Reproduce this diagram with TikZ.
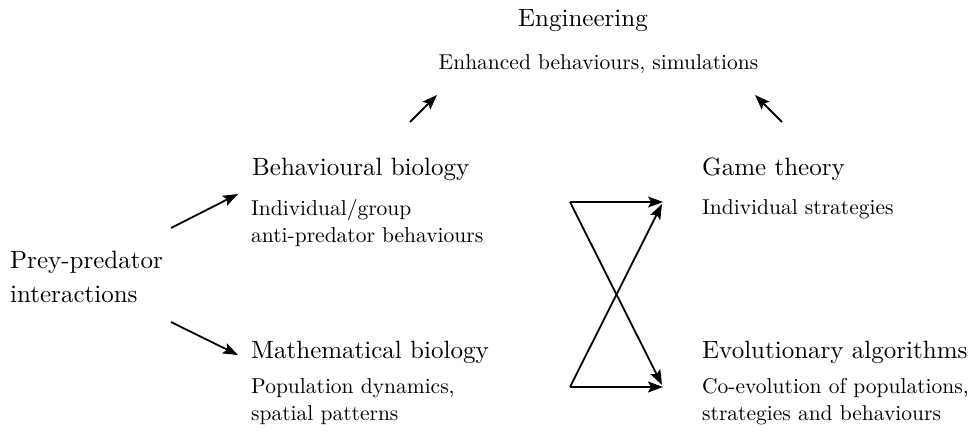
\documentclass[tikz,border=0pt]{standalone}
\usepackage{fontspec}
\setmainfont{lmroman10-regular.otf}
\usetikzlibrary{arrows.meta}
\begin{document}
\begin{tikzpicture}[x=1pt,y=-1pt,
  big/.style={font=\fontsize{25}{34}\selectfont, inner sep=0pt, anchor=base west, align=left},
  small/.style={font=\fontsize{21.5}{27}\selectfont, inner sep=0pt, anchor=base west, align=left},
  conn/.style={line width=1.8pt, -{Stealth[length=15pt,width=11pt,inset=3pt]}}]
\useasboundingbox (0,0) rectangle (974,434);
% texts (multi-line nodes are placed at the baseline of their last line)
\node[big, anchor=base] (eng) at (583,26) {Engineering};
\node[small, anchor=base] (engs) at (598.5,69) {Enhanced behaviours, simulations};
\node[big] (pp) at (10,302) {Prey-predator\\interactions};
\node[big] (bb) at (252,175) {Behavioural biology};
\node[small] (bbs) at (251,242) {Individual/group\\anti-predator behaviours};
\node[big] (mb) at (251,358) {Mathematical biology};
\node[small] (mbs) at (251,420) {Population dynamics,\\spatial patterns};
\node[big] (gt) at (702,175) {Game theory};
\node[small] (gts) at (702,214) {Individual strategies};
\node[big] (ea) at (702,358) {Evolutionary algorithms};
\node[small] (eas) at (702,420) {Co-evolution of populations,\\strategies and behaviours};
% arrow end points
\coordinate (a1s) at (171,228); \coordinate (a1e) at (238,194);
\coordinate (a2s) at (171,322); \coordinate (a2e) at (238,355);
\coordinate (a3s) at (410,122); \coordinate (a3e) at (437,95);
\coordinate (a4s) at (782,122); \coordinate (a4e) at (755,95);
\coordinate (ctl) at (570,202); \coordinate (ctr) at (663,202);
\coordinate (cbl) at (570,387); \coordinate (cbr) at (663,387);
\coordinate (cdr) at (662,385); \coordinate (cur) at (662,204);
\draw[conn] (a1s) -- (a1e);
\draw[conn] (a2s) -- (a2e);
\draw[conn] (a3s) -- (a3e);
\draw[conn] (a4s) -- (a4e);
\draw[conn] (ctl) -- (ctr);
\draw[conn] (cbl) -- (cbr);
\draw[conn] (ctl) -- (cdr);
\draw[conn] (cbl) -- (cur);
\end{tikzpicture}
\end{document}
